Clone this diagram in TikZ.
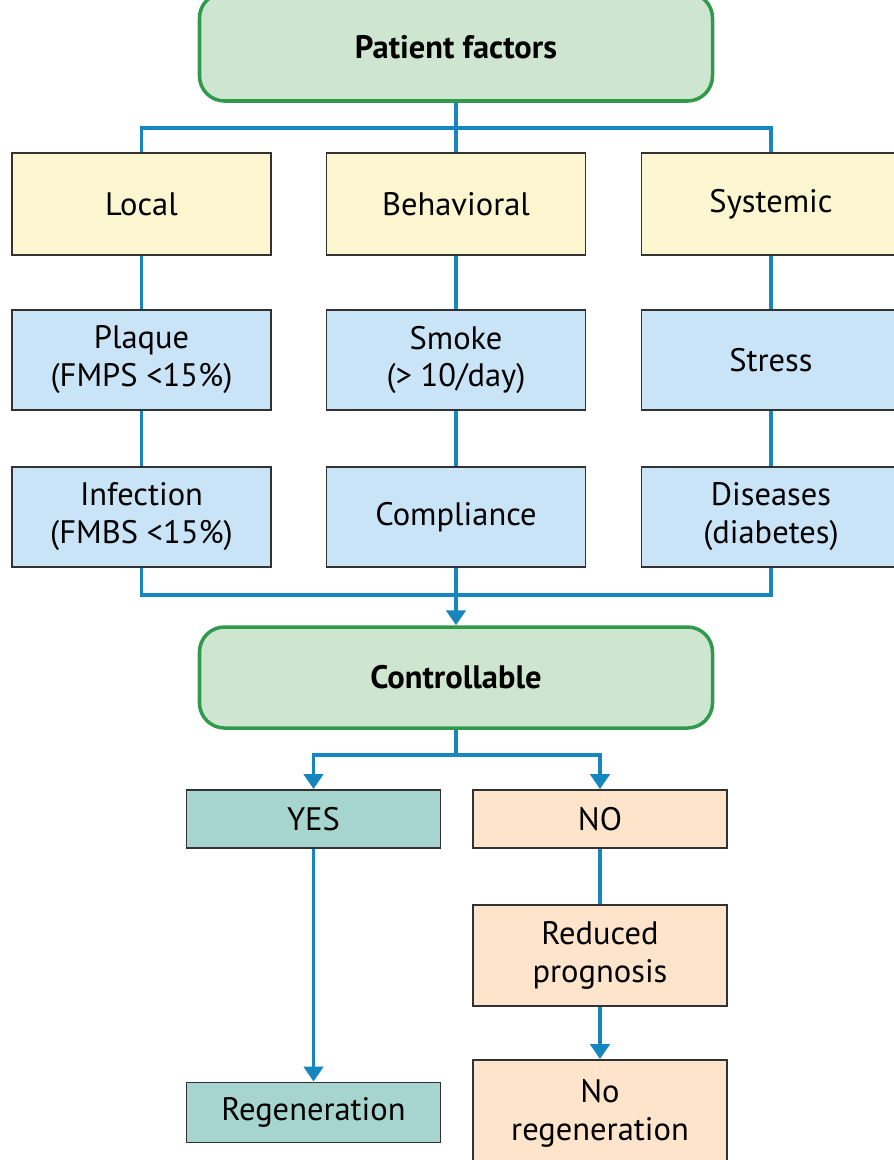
\documentclass[tikz,border=0pt]{standalone}
\usepackage{fontspec}
\setmainfont{PT Sans}
\usetikzlibrary{arrows.meta}
\definecolor{linkblue}{RGB}{22,134,190}
\definecolor{headfill}{RGB}{206,229,208}
\definecolor{headline}{RGB}{48,154,76}
\definecolor{groupfill}{RGB}{251,246,207}
\definecolor{factfill}{RGB}{201,228,247}
\definecolor{yesfill}{RGB}{166,213,208}
\definecolor{nofill}{RGB}{253,228,203}
\definecolor{boxline}{RGB}{50,50,50}
\tikzset{
  box/.style={draw=boxline,line width=1.1pt,align=center,inner sep=0pt,
    font=\fontsize{18.5}{21.6}\selectfont},
  headbox/.style={box,draw=headline,fill=headfill,line width=2pt,rounded corners=0.5cm,
    font=\fontsize{18.5}{21.6}\selectfont\bfseries},
  link/.style={draw=linkblue,line width=2.1pt}
}
\begin{document}
\begin{tikzpicture}[>={Triangle[length=8.5pt,width=11pt]},x=0.02cm,y=-0.02cm]
  \def\u{0.02cm}
  \useasboundingbox (0,0) rectangle (893,1160);
  % top
  \node[headbox,minimum width=513*\u,minimum height=108*\u] (pf) at (456,47) {Patient factors};
  \node[box,fill=groupfill,minimum width=259*\u,minimum height=102*\u] (local) at (141.5,204) {Local};
  \node[box,fill=groupfill,minimum width=259*\u,minimum height=102*\u] (behav) at (456,204) {Behavioral};
  \node[box,fill=groupfill,minimum width=259*\u,minimum height=102*\u] (sys) at (771,204) {Systemic};
  \node[box,fill=factfill,minimum width=259*\u,minimum height=100*\u] (plaque) at (141.5,360) {Plaque\\(FMPS <15\%)};
  \node[box,fill=factfill,minimum width=259*\u,minimum height=100*\u] (smoke) at (456,360) {Smoke\\(> 10/day)};
  \node[box,fill=factfill,minimum width=259*\u,minimum height=100*\u] (stress) at (771,360) {Stress};
  \node[box,fill=factfill,minimum width=259*\u,minimum height=100*\u] (infect) at (141.5,517) {Infection\\(FMBS <15\%)};
  \node[box,fill=factfill,minimum width=259*\u,minimum height=100*\u] (compl) at (456,517) {Compliance};
  \node[box,fill=factfill,minimum width=259*\u,minimum height=100*\u] (disease) at (771,517) {Diseases\\(diabetes)};
  % bottom
  \node[headbox,minimum width=513*\u,minimum height=101*\u] (ctrl) at (456,677.5) {Controllable};
  \node[box,fill=yesfill,minimum width=254*\u,minimum height=58*\u] (yes) at (313.5,819) {YES};
  \node[box,fill=nofill,minimum width=254*\u,minimum height=58*\u] (no) at (600,819) {NO};
  \node[box,fill=nofill,minimum width=254*\u,minimum height=101*\u] (reduced) at (600,955.5) {Reduced\\prognosis};
  \node[box,fill=yesfill,minimum width=254*\u,minimum height=60*\u] (regen) at (313.5,1112.5) {Regeneration};
  \node[box,fill=nofill,minimum width=254*\u,minimum height=106*\u] (noregen) at (600,1113) {No\\regeneration};
  \coordinate (topbus) at (456,128);
  \coordinate (botbus) at (456,595);
  \coordinate (split) at (456,755);
  \draw[link] (pf.south) -- (topbus) -| (local.north);
  \draw[link] (topbus) -| (sys.north);
  \draw[link] (topbus) -- (behav.north);
  \draw[link] (local) -- (plaque) -- (infect);
  \draw[link] (behav) -- (smoke) -- (compl);
  \draw[link] (sys) -- (stress) -- (disease);
  \draw[link] (infect.south) |- (botbus) -| (disease.south);
  \draw[link,->] (compl.south) -- (ctrl.north);
  \draw[link] (ctrl.south) -- (split);
  \draw[link,->] (split) -| (yes.north);
  \draw[link,->] (split) -| (no.north);
  \draw[link,->] (yes) -- (regen);
  \draw[link] (no) -- (reduced);
  \draw[link,->] (reduced) -- (noregen);
\end{tikzpicture}
\end{document}
